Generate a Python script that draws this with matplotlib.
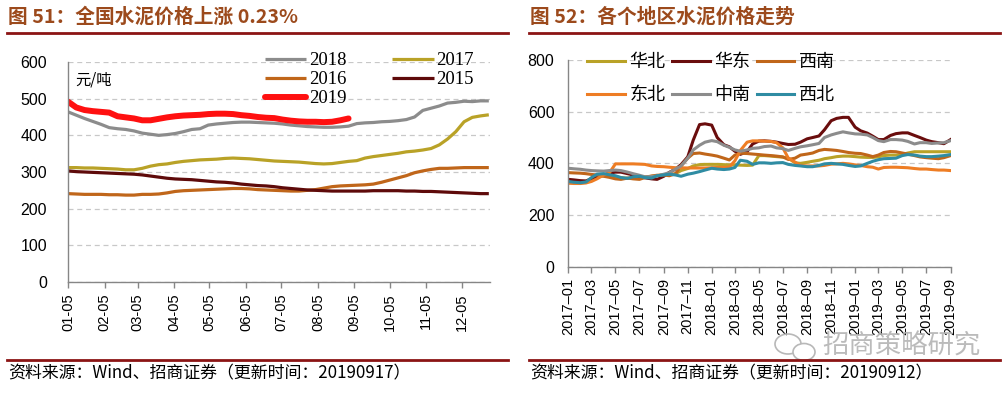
import matplotlib
matplotlib.use('Agg')
import matplotlib.pyplot as plt
import matplotlib.dates as mdates
from matplotlib.lines import Line2D
from matplotlib.patches import Ellipse
import pandas as pd

W, H = 1004, 394
CJK = ['Noto Sans CJK SC', 'DejaVu Sans']
SANS = ['Liberation Sans', 'DejaVu Sans']
SERIF = ['Liberation Serif', 'DejaVu Serif']

# ---------------- left chart data (weekly, starting 01-05) ----------------
left_start = '2019-01-05'
left_ticks_month = ['01', '02', '03', '04', '05', '06', '07', '08', '09', '10', '11', '12']
y2018 = [464, 455, 446, 438, 430, 421, 418, 416, 412, 406, 403, 400, 402, 405, 410, 416,
         418, 428, 431, 433, 435, 436, 436, 435, 434, 433, 431, 428, 426, 424, 423, 422,
         422, 423, 425, 432, 434, 435, 437, 438, 440, 443, 450, 468, 474, 480, 488, 490,
         493, 492, 494, 494]
y2017 = [312, 312, 311, 311, 310, 309, 308, 306, 306, 310, 316, 320, 322, 326, 329, 331,
         333, 334, 335, 337, 338, 337, 336, 334, 332, 330, 329, 328, 327, 325, 323, 322,
         323, 326, 329, 331, 338, 342, 345, 348, 351, 355, 357, 360, 364, 374, 390, 410,
         437, 449, 453, 456]
y2016 = [241, 240, 239, 239, 239, 238, 238, 237, 237, 239, 239, 240, 243, 247, 249, 250,
         251, 252, 253, 254, 255, 255, 254, 252, 251, 250, 249, 248, 248, 250, 252, 256,
         260, 262, 263, 264, 265, 267, 272, 278, 284, 290, 298, 303, 307, 310, 310, 311,
         312, 312, 312, 312]
y2015 = [303, 301, 300, 299, 298, 297, 296, 295, 294, 292, 289, 286, 283, 281, 280, 279,
         277, 275, 273, 272, 270, 267, 265, 263, 262, 260, 257, 255, 253, 251, 250, 249,
         248, 248, 248, 248, 248, 249, 249, 249, 249, 248, 248, 247, 247, 246, 245, 244,
         243, 242, 241, 241]
y2019 = [492, 476, 469, 466, 464, 462, 452, 449, 446, 441, 441, 445, 449, 452, 454, 455,
         456, 458, 459, 459, 458, 455, 453, 450, 448, 447, 443, 440, 438, 437, 437, 436,
         437, 441, 446]

# ---------------- right chart data (semi-monthly, 2017-01 .. 2019-09) ----------------
right_start, right_end = '2017-01-01', '2019-09-01'
huabei = [330, 328, 326, 330, 340, 348, 352, 352, 348, 345, 342, 344, 346, 348, 350, 352,
          355, 356, 360, 372, 380, 390, 395, 396, 396, 396, 395, 394, 394, 393, 392, 393,
          430, 430, 428, 426, 424, 420, 402, 400, 404, 408, 412, 418, 422, 426, 428, 428,
          426, 424, 423, 423, 425, 430, 432, 432, 434, 440, 445, 445, 445, 445, 445, 445, 445]
huadong = [338, 336, 333, 332, 340, 346, 355, 362, 366, 366, 360, 355, 348, 344, 340, 338,
           350, 365, 378, 395, 425, 490, 550, 553, 548, 500, 472, 464, 447, 435, 445, 475,
           486, 487, 485, 482, 477, 473, 474, 482, 495, 500, 506, 530, 565, 574, 578, 578,
           540, 526, 517, 505, 492, 492, 508, 515, 518, 518, 508, 500, 490, 484, 480, 476, 492]
xinan = [364, 363, 362, 360, 357, 355, 350, 346, 340, 338, 343, 340, 338, 345, 351, 354,
         355, 352, 360, 390, 420, 438, 440, 436, 432, 428, 420, 413, 432, 439, 438, 436,
         434, 432, 430, 428, 425, 415, 420, 432, 436, 440, 450, 454, 452, 450, 446, 442,
         439, 438, 432, 426, 432, 442, 446, 445, 440, 436, 430, 425, 422, 420, 418, 422, 430]
dongbei = [323, 322, 322, 324, 330, 340, 355, 362, 398, 398, 398, 398, 397, 396, 390, 388,
           387, 385, 383, 383, 382, 382, 382, 382, 383, 384, 384, 386, 410, 450, 482, 487,
           487, 486, 485, 480, 460, 420, 405, 392, 390, 390, 390, 392, 397, 398, 400, 398,
           394, 392, 387, 385, 378, 384, 385, 385, 384, 383, 380, 378, 378, 376, 374, 374, 372]
zhongnan = [381, 379, 377, 374, 372, 371, 370, 372, 374, 372, 366, 360, 354, 348, 349, 351,
            358, 364, 378, 390, 420, 452, 470, 482, 488, 484, 470, 462, 452, 447, 452, 458,
            460, 465, 467, 460, 457, 450, 458, 464, 468, 472, 477, 500, 510, 516, 522, 518,
            514, 513, 510, 500, 488, 484, 492, 492, 490, 485, 475, 480, 480, 477, 479, 480, 488]
xibei = [330, 327, 325, 328, 345, 358, 360, 356, 352, 345, 342, 348, 350, 345, 343, 352,
         355, 358, 355, 350, 358, 362, 368, 374, 381, 378, 376, 378, 384, 412, 408, 396,
         402, 402, 400, 402, 403, 396, 392, 390, 387, 387, 392, 398, 400, 398, 396, 392,
         388, 390, 400, 408, 414, 418, 419, 420, 430, 434, 432, 428, 426, 426, 428, 430, 434]

# ---------------- colours ----------------
C2018, C2017, C2016, C2015, C2019 = '#8C8C8C', '#B9A227', '#C0661A', '#5E0A0A', '#FF1010'
C_HB, C_HD, C_XN, C_DB, C_ZN, C_XB = '#B9A227', '#6A0D0D', '#C0661A', '#EE7D24', '#8C8C8C', '#2F8CA3'
TITLE_C = '#9C4A1C'
RULE_C = '#8B1414'
AX_C = '#868686'
GRID_C = '#C8C8C8'

fig = plt.figure(figsize=(W / 100, H / 100), dpi=100)
fig.patch.set_facecolor('white')


def style_axes(ax):
    for s in ('top', 'right'):
        ax.spines[s].set_visible(False)
    for s in ('left', 'bottom'):
        ax.spines[s].set_color(AX_C)
        ax.spines[s].set_linewidth(1.0)
    ax.yaxis.grid(True, linestyle=(0, (4, 3)), color=GRID_C, linewidth=0.9)
    ax.set_axisbelow(True)
    ax.tick_params(axis='both', colors=AX_C, labelcolor='black')


# ================= LEFT =================
axL = fig.add_axes([68 / W, 1 - 282 / H, (490 - 68) / W, 220 / H])
style_axes(axL)
dL = pd.date_range(left_start, periods=len(y2018), freq='7D').to_pydatetime()
lw = 2.3
axL.plot(dL, y2018, color=C2018, lw=lw, label='2018', solid_capstyle='butt')
axL.plot(dL, y2017, color=C2017, lw=lw, label='2017', solid_capstyle='butt')
axL.plot(dL, y2016, color=C2016, lw=lw, label='2016', solid_capstyle='butt')
axL.plot(dL, y2015, color=C2015, lw=lw, label='2015', solid_capstyle='butt')
axL.plot(dL[:len(y2019)], y2019, color=C2019, lw=4.3, label='2019', solid_capstyle='round')
axL.set_ylim(0, 600)
axL.set_yticks(range(0, 601, 100))
axL.set_xlim(pd.Timestamp('2019-01-05'), pd.Timestamp('2019-12-29'))
axL.set_xticks([pd.Timestamp('2019-%s-05' % m) for m in left_ticks_month])
axL.xaxis.set_major_formatter(mdates.DateFormatter('%m-%d'))
axL.tick_params(axis='x', length=4, width=1, pad=4, labelrotation=90, labelsize=10.5)
axL.tick_params(axis='y', length=0, pad=15, labelsize=11.5)
for t in axL.get_xticklabels() + axL.get_yticklabels():
    t.set_family(SANS)
axL.text(0.018, 0.955, '元/吨', transform=axL.transAxes, fontsize=11,
         family=CJK, va='top', ha='left')
hL = {l.get_label(): l for l in axL.get_lines()}
order = ['2018', '2016', '2019', '2017', '2015']
legL = axL.legend([hL[k] for k in order], order, ncol=2, frameon=False,
                  loc='upper left', bbox_to_anchor=(265 / W, 1 - 52 / H),
                  bbox_transform=fig.transFigure, borderpad=0, borderaxespad=0,
                  handlelength=2.2, handletextpad=0.15, columnspacing=2.45,
                  labelspacing=0.1, prop={'family': SERIF, 'size': 13.5})

# ================= RIGHT =================
axR = fig.add_axes([568.3 / W, 1 - 266.7 / H, (951 - 568.3) / W, 206.7 / H])
style_axes(axR)
dR = pd.date_range(right_start, right_end, freq='SMS').to_pydatetime()
lwR = 2.2
series_R = [('华北', huabei, C_HB), ('华东', huadong, C_HD), ('西南', xinan, C_XN),
            ('东北', dongbei, C_DB), ('中南', zhongnan, C_ZN), ('西北', xibei, C_XB)]
hR = {}
for name, vals, col in series_R:
    hR[name], = axR.plot(dR, vals, color=col, lw=lwR, label=name)
axR.set_ylim(0, 800)
axR.set_yticks(range(0, 801, 200))
axR.set_xlim(pd.Timestamp(right_start), pd.Timestamp('2019-09-02'))
axR.set_xticks(pd.date_range(right_start, right_end, freq='2MS').to_pydatetime())
axR.xaxis.set_major_formatter(mdates.DateFormatter('%Y\u2013%m'))
axR.tick_params(axis='x', length=4, width=1, pad=4, labelrotation=90, labelsize=10.5)
axR.tick_params(axis='y', length=0, pad=10, labelsize=11.5)
for t in axR.get_xticklabels() + axR.get_yticklabels():
    t.set_family(SANS)
orderR = ['华北', '东北', '华东', '中南', '西南', '西北']
legR = axR.legend([hR[k] for k in orderR], orderR, ncol=3, frameon=False,
                  loc='upper left', bbox_to_anchor=(587 / W, 1 - 53 / H),
                  bbox_transform=fig.transFigure, borderpad=0, borderaxespad=0,
                  handlelength=2.1, handletextpad=0.25, columnspacing=0.35,
                  labelspacing=0.85, prop={'family': CJK, 'size': 13})

# ================= titles, rules, footers =================
fig.text(8 / W, 1 - 17 / H, '图 51：全国水泥价格上涨 0.23%', fontsize=14.2, fontweight='bold',
         color=TITLE_C, va='center', ha='left', family=CJK)
fig.text(530 / W, 1 - 17 / H, '图 52：各个地区水泥价格走势', fontsize=14.2, fontweight='bold',
         color=TITLE_C, va='center', ha='left', family=CJK)
for x0, x1 in ((7, 508), (529, 1000)):
    for yy in (32.5, 360):
        fig.add_artist(Line2D([x0 / W, x1 / W], [1 - yy / H, 1 - yy / H],
                              color=RULE_C, lw=2.0, transform=fig.transFigure))
fig.text(8 / W, 1 - 373 / H, '资料来源：Wind、招商证券（更新时间：20190917）', fontsize=12.2,
         va='center', ha='left', family=CJK, color='black')
fig.text(530 / W, 1 - 373 / H, '资料来源：Wind、招商证券（更新时间：20190912）', fontsize=12.2,
         va='center', ha='left', family=CJK, color='black')

# watermark
fig.add_artist(Ellipse((788 / W, 1 - 344 / H), 26 / W, 20 / H, fill=False,
                       edgecolor='#B8B8B8', lw=1.2, transform=fig.transFigure))
fig.add_artist(Ellipse((804 / W, 1 - 352 / H), 22 / W, 17 / H, facecolor='white',
                       edgecolor='#B8B8B8', lw=1.2, transform=fig.transFigure))
fig.text(822 / W, 1 - 346 / H, '招商策略研究', fontsize=19, color='#B4B4B4',
         va='center', ha='left', family=CJK, alpha=0.9)

fig.savefig('out.png', dpi=100, facecolor='white')
